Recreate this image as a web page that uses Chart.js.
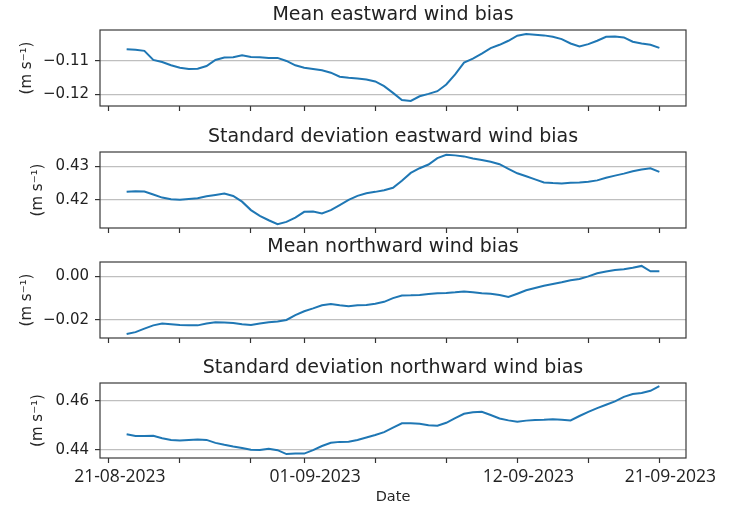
<!DOCTYPE html>
<html>
<head>
<meta charset="utf-8">
<script src="https://cdn.jsdelivr.net/npm/chart.js@4.4.1/dist/chart.umd.min.js"></script>
<style>
  html, body { margin: 0; padding: 0; background: #ffffff; }
  #wrap { position: relative; width: 729px; height: 506px; overflow: hidden; }
  #wrap canvas { position: absolute; left: 0; }
</style>
</head>
<body>
<div id="wrap">
  <canvas id="c1" width="729" height="116" style="top:0px"></canvas>
  <canvas id="c2" width="729" height="116" style="top:122px"></canvas>
  <canvas id="c3" width="729" height="116" style="top:232px"></canvas>
  <canvas id="c4" width="729" height="153" style="top:353px"></canvas>
</div>
<script>
// Days elapsed since 21-08-2023 00:00, sampled every 12 hours
const days = [
  1.0, 1.5, 2.0, 2.5, 3.0, 3.5, 4.0, 4.5, 5.0, 5.5,
  6.0, 6.5, 7.0, 7.5, 8.0, 8.5, 9.0, 9.5, 10.0, 10.5,
  11.0, 11.5, 12.0, 12.5, 13.0, 13.5, 14.0, 14.5, 15.0, 15.5,
  16.0, 16.5, 17.0, 17.5, 18.0, 18.5, 19.0, 19.5, 20.0, 20.5,
  21.0, 21.5, 22.0, 22.5, 23.0, 23.5, 24.0, 24.5, 25.0, 25.5,
  26.0, 26.5, 27.0, 27.5, 28.0, 28.5, 29.0, 29.5, 30.0, 30.5, 31.0
];

// Mean eastward wind bias (m s-1)
const meanEastward = [
  -0.1065, -0.1067, -0.1070, -0.1097, -0.1103, -0.1113, -0.1120, -0.1124, -0.1123, -0.1115,
  -0.1097, -0.1090, -0.1089, -0.1083, -0.1088, -0.1089, -0.1091, -0.1091, -0.1100, -0.1113,
  -0.1120, -0.1124, -0.1128, -0.1135, -0.1147, -0.1150, -0.1152, -0.1155, -0.1161, -0.1175,
  -0.1195, -0.1216, -0.1219, -0.1205, -0.1198, -0.1190, -0.1170, -0.1140, -0.1105, -0.1093,
  -0.1078, -0.1062, -0.1052, -0.1040, -0.1025, -0.1020, -0.1022, -0.1024, -0.1028, -0.1035,
  -0.1048, -0.1057, -0.1050, -0.1040, -0.1028, -0.1027, -0.1030, -0.1043, -0.1048, -0.1052, -0.1061
];

// Standard deviation of eastward wind bias (m s-1)
const stdEastward = [
  0.4224, 0.4226, 0.4225, 0.4216, 0.4207, 0.4202, 0.4201, 0.4203, 0.4205, 0.4211,
  0.4215, 0.4219, 0.4212, 0.4195, 0.4170, 0.4153, 0.4140, 0.4128, 0.4135, 0.4148,
  0.4165, 0.4166, 0.4160, 0.4170, 0.4185, 0.4200, 0.4212, 0.4220, 0.4224, 0.4229,
  0.4236, 0.4257, 0.4280, 0.4294, 0.4305, 0.4324, 0.4334, 0.4332, 0.4329, 0.4323,
  0.4318, 0.4313, 0.4306, 0.4292, 0.4279, 0.4270, 0.4261, 0.4252, 0.4250, 0.4249,
  0.4251, 0.4252, 0.4254, 0.4258, 0.4266, 0.4272, 0.4278, 0.4285, 0.4290, 0.4294, 0.4283
];

// Mean northward wind bias (m s-1)
const meanNorthward = [
  -0.0265, -0.0256, -0.0240, -0.0225, -0.0217, -0.0220, -0.0223, -0.0224, -0.0225, -0.0216,
  -0.0211, -0.0212, -0.0214, -0.0220, -0.0223, -0.0216, -0.0211, -0.0207, -0.0200, -0.0178,
  -0.0160, -0.0147, -0.0133, -0.0127, -0.0133, -0.0137, -0.0133, -0.0131, -0.0126, -0.0117,
  -0.0100, -0.0088, -0.0087, -0.0085, -0.0081, -0.0078, -0.0076, -0.0073, -0.0069, -0.0073,
  -0.0077, -0.0080, -0.0086, -0.0095, -0.0080, -0.0064, -0.0053, -0.0043, -0.0035, -0.0027,
  -0.0018, -0.0012, 0.0000, 0.0014, 0.0022, 0.0029, 0.0033, 0.0040, 0.0048, 0.0023, 0.0024
];

// Standard deviation of northward wind bias (m s-1)
const stdNorthward = [
  0.4463, 0.4456, 0.4456, 0.4457, 0.4447, 0.4440, 0.4438, 0.4440, 0.4442, 0.4440,
  0.4428, 0.4420, 0.4413, 0.4407, 0.4400, 0.4399, 0.4404, 0.4398, 0.4382, 0.4384,
  0.4384, 0.4398, 0.4415, 0.4428, 0.4432, 0.4433, 0.4440, 0.4450, 0.4460, 0.4472,
  0.4490, 0.4508, 0.4508, 0.4506, 0.4500, 0.4498, 0.4510, 0.4529, 0.4547, 0.4553,
  0.4555, 0.4542, 0.4528, 0.4520, 0.4514, 0.4519, 0.4522, 0.4523, 0.4525, 0.4523,
  0.4520, 0.4538, 0.4555, 0.4570, 0.4584, 0.4598, 0.4616, 0.4628, 0.4632, 0.4641, 0.4660
];

const panelTitles = [
  'Mean eastward wind bias',
  'Standard deviation eastward wind bias',
  'Mean northward wind bias',
  'Standard deviation northward wind bias'
];
const yTicks = [
  [-0.12, -0.11],
  [0.42, 0.43],
  [-0.02, 0.00],
  [0.44, 0.46]
];
const yLimits = [
  [-0.1234, -0.1008],
  [0.4117, 0.4342],
  [-0.0283, 0.0066],
  [0.4366, 0.4673]
];
const unitLabel = '(m s\u207B\u00B9)';
const xLabel = 'Date';
// date tick marks (days since 21-08-2023) and the dates written under some of them
const tickDays = [0, 4, 8, 11, 15, 19, 23, 27, 31];
const dateLabelDays = [0, 11, 23, 31];
const dateLabelTexts = ['21-08-2023', '01-09-2023', '12-09-2023', '21-09-2023'];
const xLimits = [-0.5, 32.5];

Chart.defaults.font.family = "'DejaVu Sans', sans-serif";
Chart.defaults.color = '#262626';

// dark frame round each plotting area
const framePlugin = {
  id: 'frame',
  afterDatasetsDraw(chart) {
    const a = chart.chartArea;
    const ctx = chart.ctx;
    ctx.save();
    ctx.strokeStyle = '#3a3a3a';
    ctx.lineWidth = 1.2;
    ctx.strokeRect(a.left, a.top, a.right - a.left, a.bottom - a.top);
    ctx.restore();
  }
};

const series = [meanEastward, stdEastward, meanNorthward, stdNorthward];
const canvasIds = ['c1', 'c2', 'c3', 'c4'];

function fmtTick(v) {
  return v.toFixed(2).replace('-', '\u2212');
}

series.forEach((vals, i) => {
  const isLast = i === series.length - 1;
  const shortTicks = yTicks[i].every(t => t >= 0);
  new Chart(document.getElementById(canvasIds[i]), {
    type: 'line',
    data: {
      datasets: [{
        data: days.map((d, k) => ({ x: d, y: vals[k] })),
        borderColor: '#1f77b4',
        borderWidth: 2,
        pointRadius: 0,
        tension: 0,
        fill: false
      }]
    },
    options: {
      responsive: false,
      animation: false,
      devicePixelRatio: 1,
      layout: { padding: { left: 0, right: 43, top: 0, bottom: 0 } },
      plugins: { legend: { display: false }, tooltip: { enabled: false }, title: { display: false } },
      scales: {
        x: {
          type: 'linear',
          position: 'bottom',
          min: xLimits[0],
          max: xLimits[1],
          border: { display: false },
          grid: { drawOnChartArea: false, drawTicks: true, tickLength: 5, tickColor: '#333333', tickWidth: 1.2 },
          afterBuildTicks: s => { s.ticks = tickDays.map(v => ({ value: v })); },
          afterFit: s => { s.height = isLast ? 48 : 10; s.paddingLeft = 0; s.paddingRight = 0; },
          ticks: {
            autoSkip: false,
            maxRotation: 0,
            minRotation: 0,
            padding: 4,
            labelOffset: 11,
            color: '#222222',
            font: { family: "'Open Sans', sans-serif", size: 17.5 },
            callback: v => {
              if (!isLast) return '';
              const k = dateLabelDays.indexOf(v);
              return k >= 0 ? dateLabelTexts[k] : '';
            }
          },
          title: {
            display: isLast,
            text: xLabel,
            color: '#262626',
            font: { size: 14.5 },
            padding: { top: 0, bottom: 0 }
          }
        },
        xTop: {
          type: 'linear',
          position: 'top',
          axis: 'x',
          min: xLimits[0],
          max: xLimits[1],
          border: { display: false },
          grid: { display: false },
          ticks: { display: false },
          afterFit: s => { s.height = 30; },
          title: {
            display: true,
            text: panelTitles[i],
            color: '#222222',
            font: { size: 19 },
            padding: { top: 3.5, bottom: 0 }
          }
        },
        y: {
          type: 'linear',
          position: 'left',
          min: yLimits[i][0],
          max: yLimits[i][1],
          border: { display: false },
          grid: { color: 'rgba(170,170,170,0.75)', lineWidth: 1.2, drawTicks: true, tickLength: 5, tickColor: '#333333', tickWidth: 1.2 },
          afterBuildTicks: s => { s.ticks = yTicks[i].map(v => ({ value: v })); },
          afterFit: s => { s.width = 100; s.paddingTop = 0; s.paddingBottom = 0; },
          ticks: {
            padding: 6,
            color: '#222222',
            font: { size: 15 },
            callback: v => fmtTick(v)
          },
          title: {
            display: true,
            text: unitLabel,
            color: '#262626',
            font: { size: 15 },
            padding: { top: shortTicks ? 29 : 18.5, bottom: 0 }
          }
        }
      }
    },
    plugins: [framePlugin]
  });
});
</script>
</body>
</html>
